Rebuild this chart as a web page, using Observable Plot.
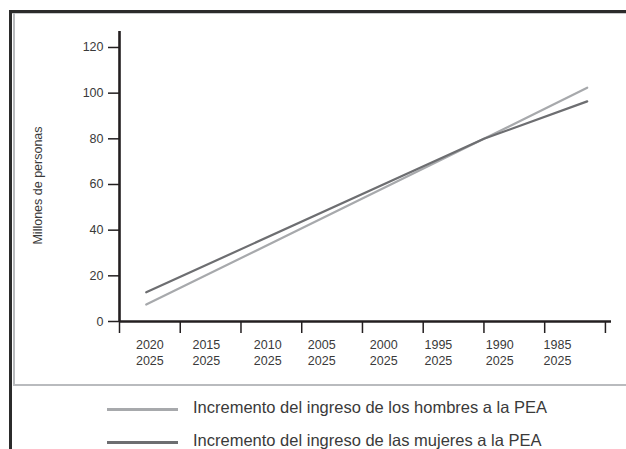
<!DOCTYPE html>
<html>
<head>
<meta charset="utf-8">
<script src="https://cdn.jsdelivr.net/npm/d3@7"></script>
<script src="https://cdn.jsdelivr.net/npm/@observablehq/plot@0.6"></script>
<style>
  html, body { margin: 0; padding: 0; background: #fff; }
  #wrap { position: relative; width: 626px; height: 449px; overflow: hidden; font-family: "Liberation Sans", Arial, Helvetica, sans-serif; }
  #chart { position: absolute; left: 0; top: 0; }
  .b { position: absolute; }
  #legend { position: absolute; left: 0; top: 386px; width: 626px; }
  .item { position: absolute; left: 107px; height: 20px; display: flex; align-items: center; }
  .sw { width: 71px; height: 3px; margin-right: 15px; margin-top: 5px; }
  .lt { font-size: 16.5px; color: #3a3a3a; white-space: nowrap; }
</style>
</head>
<body>
<div id="wrap">
  <div id="chart"></div>
  <div class="b" style="left:9px;top:10px;width:617px;height:3px;background:#2b2b2b"></div>
  <div class="b" style="left:12px;top:13px;width:614px;height:1px;background:#c8cacc"></div>
  <div class="b" style="left:9px;top:10px;width:3px;height:439px;background:#2b2b2b"></div>
  <div class="b" style="left:13px;top:13px;width:2px;height:373px;background:#b9bbbe"></div>
  <div class="b" style="left:13px;top:384px;width:613px;height:2px;background:#b9bbbe"></div>
  <div id="legend"></div>
</div>
<script>
// Category labels (two-line tick labels)
const periodStart = ["2020", "2015", "2010", "2005", "2000", "1995", "1990", "1985"];
const periodEnd = ["2025", "2025", "2025", "2025", "2025", "2025", "2025", "2025"];
const labelPos = [0.5, 1.43, 2.44, 3.33, 4.35, 5.25, 6.26, 7.21];
const tickBounds = [0, 1, 2, 3, 4, 5, 6, 7, 8];
const yTicks = [0, 20, 40, 60, 80, 100, 120];

// Series (x in category units, y in millions)
const seriesX = [0.44, 6.0, 7.7];
const hombres = [7.4, 80, 102.4];
const mujeres = [12.8, 80, 96.4];

const seriesNames = ["Incremento del ingreso de los hombres a la PEA", "Incremento del ingreso de las mujeres a la PEA"];
const seriesColors = ["#a7a9ac", "#6d6e71"];

const data = [
  ...seriesX.map((x, i) => ({x, y: hombres[i], s: seriesNames[0]})),
  ...seriesX.map((x, i) => ({x, y: mujeres[i], s: seriesNames[1]}))
];
const labels = periodStart.map((a, i) => ({x: labelPos[i], t: a + "\n" + periodEnd[i]}));

const ink = "#231f20";
const txt = "#3a3a3a";

const chart = Plot.plot({
  width: 626,
  height: 384,
  marginLeft: 119,
  marginRight: 15,
  marginTop: 31,
  marginBottom: 63,
  style: {fontFamily: '"Liberation Sans", Arial, Helvetica, sans-serif', fontSize: "12.5px", color: txt, background: "transparent"},
  x: {domain: [0, 8.1], axis: null},
  y: {domain: [0, 127], axis: null},
  color: {domain: seriesNames, range: seriesColors},
  marks: [
    Plot.axisY({ticks: yTicks, tickSize: 11, tickPadding: 5, stroke: ink, strokeWidth: 1.5, fill: txt, fontSize: 12.5, label: null}),
    Plot.axisX({ticks: tickBounds, tickSize: 12, tickFormat: () => "", stroke: ink, strokeWidth: 1.5, label: null}),
    Plot.text(labels, {x: "x", y: () => 0, text: "t", lineAnchor: "top", dy: 16.5, lineHeight: 1.24, fill: txt, fontSize: 12.5}),
    Plot.text(["Millones de personas"], {frameAnchor: "left", textAnchor: "middle", text: d => d, rotate: -90, dx: -82, dy: 9, fill: txt, fontSize: 12.5}),
    Plot.line(data, {x: "x", y: "y", z: "s", stroke: "s", strokeWidth: 2.2}),
    Plot.ruleY([0], {x1: 0, x2: 8.1, stroke: ink, strokeWidth: 2.6}),
    Plot.ruleX([0], {y1: 0, y2: 127, stroke: ink, strokeWidth: 2.6})
  ]
});
document.getElementById("chart").appendChild(chart);

const legend = document.getElementById("legend");
const tops = [21, 54];
seriesNames.forEach((n, i) => {
  const item = document.createElement("div");
  item.className = "item";
  item.style.top = (tops[i] - 10) + "px";
  const sw = document.createElement("span");
  sw.className = "sw";
  sw.style.background = seriesColors[i];
  const t = document.createElement("span");
  t.className = "lt";
  t.textContent = n;
  item.appendChild(sw);
  item.appendChild(t);
  legend.appendChild(item);
});
</script>
</body>
</html>
